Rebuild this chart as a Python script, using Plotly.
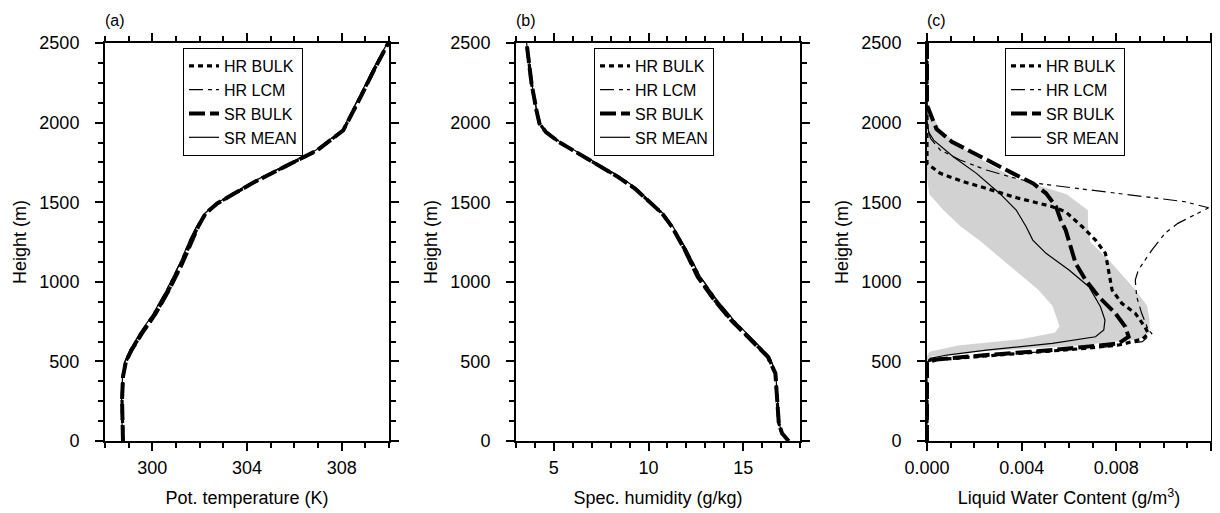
import plotly.graph_objects as go

# ---------------- data ----------------
series_names = ["HR BULK", "HR LCM", "SR BULK", "SR MEAN"]

# (a) potential temperature (K)
h_a = [0, 257, 404, 498, 571, 676, 801, 948, 1115, 1262, 1345, 1429, 1492, 1554,
       1628, 1722, 1826, 1952, 2015, 2161, 2328, 2500]
theta_mean = [298.74, 298.70, 298.74, 298.84, 299.05, 299.47, 300.04, 300.60, 301.16,
              301.58, 301.86, 302.21, 302.70, 303.40, 304.25, 305.50, 306.90, 308.03,
              308.25, 308.74, 309.30, 309.93]
theta_bulk = [298.76, 298.72, 298.76, 298.88, 299.12, 299.56, 300.14, 300.70, 301.26,
              301.66, 301.93, 302.25, 302.74, 303.46, 304.33, 305.58, 306.97, 308.07,
              308.30, 308.80, 309.36, 309.97]

# (b) specific humidity (g/kg)
h_b = [0, 48, 111, 257, 425, 529, 634, 759, 885, 1031, 1199, 1345, 1429, 1513, 1586,
       1659, 1732, 1805, 1879, 1941, 1994, 2077, 2245, 2500]
q_mean = [17.40, 17.07, 16.89, 16.81, 16.72, 16.40, 15.55, 14.50, 13.62, 12.74, 12.02,
          11.30, 10.77, 9.98, 9.38, 8.50, 7.44, 6.38, 5.32, 4.61, 4.26, 4.09, 3.83, 3.56]
q_bulk = [17.40, 17.05, 16.88, 16.80, 16.70, 16.30, 15.40, 14.36, 13.48, 12.60, 11.92,
          11.24, 10.72, 9.92, 9.28, 8.38, 7.34, 6.30, 5.26, 4.58, 4.24, 4.08, 3.82, 3.56]

# (c) liquid water content (g/m3)
h_hrb = [0, 495, 509, 518, 550, 582, 603, 640, 676, 718, 802, 865, 948, 1053, 1179,
         1262, 1346, 1440, 1472, 1503, 1534, 1587, 1629, 1681, 1744, 1800, 2500]
lwc_hrb = [0, 0, 0.00014, 0.0011, 0.0039, 0.0067, 0.0081, 0.0091, 0.00935, 0.0092,
           0.0088, 0.00823, 0.00782, 0.00768, 0.00754, 0.00712, 0.00656, 0.00586,
           0.0053, 0.00447, 0.00363, 0.00251, 0.00153, 0.00056, 0.0, 0, 0]

h_lcm = [0, 495, 509, 530, 560, 590, 624, 676, 697, 802, 906, 1011, 1074, 1199, 1304,
         1367, 1420, 1465, 1503, 1555, 1619, 1660, 1702, 1765, 1828, 1900, 1980, 2500]
lwc_lcm = [0, 0, 0.0002, 0.0018, 0.0048, 0.0075, 0.0091, 0.0095, 0.00935, 0.00907,
           0.00886, 0.0088, 0.00893, 0.0095, 0.01005, 0.0106, 0.0113, 0.0119, 0.0109,
           0.0081, 0.0046, 0.00349, 0.00251, 0.0014, 0.00056, 0.00015, 0, 0]

h_srb = [0, 495, 512, 540, 571, 613, 655, 718, 802, 906, 1011, 1116, 1220, 1325, 1388,
         1472, 1556, 1619, 1681, 1744, 1807, 1880, 1960, 2056, 2110, 2500]
lwc_srb = [0, 0, 0.0004, 0.0025, 0.0053, 0.0081, 0.00852, 0.00838, 0.00796, 0.00726,
           0.0067, 0.00628, 0.00607, 0.00586, 0.00565, 0.00545, 0.00503, 0.00447,
           0.00363, 0.00279, 0.00195, 0.00105, 0.0004, 0.00014, 0, 0]

h_srm = [0, 487, 519, 540, 571, 613, 655, 697, 759, 843, 969, 1074, 1179, 1262, 1346,
         1451, 1555, 1681, 1786, 1890, 1941, 2015, 2500]
lwc_srm = [0, 0, 0.00014, 0.00084, 0.00251, 0.0053, 0.00712, 0.00747, 0.00752, 0.00733,
           0.00684, 0.006, 0.00503, 0.00447, 0.00419, 0.00377, 0.00307, 0.00209,
           0.00111, 0.00028, 0.00007, 0, 0]

# SR ensemble spread (min / max) for (c)
h_band = [500, 530, 560, 600, 640, 680, 720, 760, 850, 950, 1050, 1150, 1250, 1350,
          1450, 1550, 1650, 1750, 1850, 1950, 2050, 2120]
band_min = [0, 0, 0.0001, 0.0013, 0.0040, 0.0054, 0.0056, 0.0055, 0.0053, 0.0047,
            0.0039, 0.0031, 0.0023, 0.0014, 0.0007, 0.0001, 0, 0, 0, 0, 0, 0]
band_max = [0, 0.0002, 0.0020, 0.0064, 0.0090, 0.0094, 0.0094, 0.0094, 0.0093, 0.0088,
            0.0082, 0.0076, 0.0069, 0.0068, 0.0068, 0.0059, 0.0037, 0.0025, 0.0014,
            0.0006, 0.0002, 0]

# ---------------- styles ----------------
FONT = "Liberation Sans, Arial, Helvetica, sans-serif"
styles = {
    "HR BULK": dict(color="black", width=3.2, dash="5px,4px"),
    "HR LCM": dict(color="black", width=1.2, dash="14px,5px,4px,4px,4px,5px"),
    "SR BULK": dict(color="black", width=4, dash="16px,5px"),
    "SR MEAN": dict(color="black", width=1.2, dash="solid"),
}
BAND = "rgb(210,210,210)"

fig = go.Figure()

panels = [
    ("x", "y", "legend", [(theta_bulk, h_a), (theta_mean, h_a), (theta_bulk, h_a), (theta_mean, h_a)], None),
    ("x2", "y2", "legend2", [(q_bulk, h_b), (q_mean, h_b), (q_bulk, h_b), (q_mean, h_b)], None),
    ("x3", "y3", "legend3", [(lwc_hrb, h_hrb), (lwc_lcm, h_lcm), (lwc_srb, h_srb), (lwc_srm, h_srm)],
     (band_min, band_max, h_band)),
]

for xa, ya, lg, curves, band in panels:
    if band is not None:
        bmin, bmax, hb = band
        fig.add_trace(go.Scatter(
            x=list(bmax) + list(bmin[::-1]), y=list(hb) + list(hb[::-1]),
            fill="toself", fillcolor=BAND, line=dict(width=0, color=BAND),
            mode="lines", showlegend=False, hoverinfo="skip", xaxis=xa, yaxis=ya))
    for name, (xv, yv) in zip(series_names, curves):
        fig.add_trace(go.Scatter(
            x=xv, y=yv, mode="lines", name=name, line=styles[name],
            xaxis=xa, yaxis=ya, legend=lg))

# page body has an 8px margin: the figure is drawn 8px in from the window corner
OFF = 8
W, H = 1220 - OFF, 513 - OFF
x_dom = [(105 - OFF, 389 - OFF), (516 - OFF, 800 - OFF), (927 - OFF, 1211 - OFF)]
y_dom = [(H - (441 - OFF)) / H, (H - (43 - OFF)) / H]

axis_common = dict(
    showline=True, linecolor="black", linewidth=2, mirror="ticks",
    ticks="outside", ticklen=8, tickwidth=2, tickcolor="black",
    showgrid=False, zeroline=False, automargin=False,
    tickfont=dict(family=FONT, size=18, color="black"),
    minor=dict(ticks="outside", ticklen=5, tickwidth=1.5, tickcolor="black", showgrid=False),
)

xinfo = [
    dict(range=[298, 310], tick0=300, dtick=4, minor_dtick=1, title="Pot. temperature (K)", fmt=None),
    dict(range=[3, 18], tick0=0, dtick=5, minor_dtick=1, title="Spec. humidity (g/kg)", fmt=None),
    dict(range=[0, 0.012], tick0=0, dtick=0.004, minor_dtick=0.001,
         title="Liquid Water Content (g/m<sup>3</sup>)", fmt=".3f"),
]

layout = dict(
    template="none",
    width=W, height=H, margin=dict(l=0, r=0, t=0, b=0, autoexpand=False),
    paper_bgcolor="white", plot_bgcolor="white",
    font=dict(family=FONT, size=18, color="black"),
)

for i in range(3):
    sfx = "" if i == 0 else str(i + 1)
    xi = xinfo[i]
    xa = dict(axis_common)
    xa.update(
        domain=[x_dom[i][0] / W, x_dom[i][1] / W], anchor="y" + sfx,
        range=xi["range"], tick0=xi["tick0"], dtick=xi["dtick"],
        ticklabelstandoff=1,
        title=dict(text=xi["title"], font=dict(family=FONT, size=18, color="black"), standoff=15),
    )
    xa["minor"] = dict(axis_common["minor"], dtick=xi["minor_dtick"])
    if xi["fmt"]:
        xa["tickformat"] = xi["fmt"]
    ya = dict(axis_common)
    ya.update(
        domain=y_dom, anchor="x" + sfx, range=[0, 2500], tick0=0, dtick=500,
        ticklabelstandoff=12,
        title=dict(text="Height (m)", font=dict(family=FONT, size=18, color="black"), standoff=8),
    )
    ya["minor"] = dict(axis_common["minor"], dtick=125)
    layout["xaxis" + sfx] = xa
    layout["yaxis" + sfx] = ya

legend_left = [183 - OFF, 594 - OFF, 1005 - OFF]
for i, lg in enumerate(["legend", "legend2", "legend3"]):
    layout[lg] = dict(
        x=legend_left[i] / W, y=(H - (48 - OFF)) / H, xanchor="left", yanchor="top",
        bgcolor="rgba(255,255,255,0)", bordercolor="black", borderwidth=1,
        font=dict(family=FONT, size=16, color="black"),
        tracegroupgap=0, itemwidth=30,
    )

fig.update_layout(**layout)

labels = ["(a)", "(b)", "(c)"]
for i, lab in enumerate(labels):
    fig.add_annotation(
        text=lab, xref="paper", yref="paper", x=(x_dom[i][0] - 2) / W, y=(H - (20 - OFF)) / H,
        xanchor="left", yanchor="middle", showarrow=False,
        font=dict(family=FONT, size=16, color="black"))

fig.write_html("out.html")
